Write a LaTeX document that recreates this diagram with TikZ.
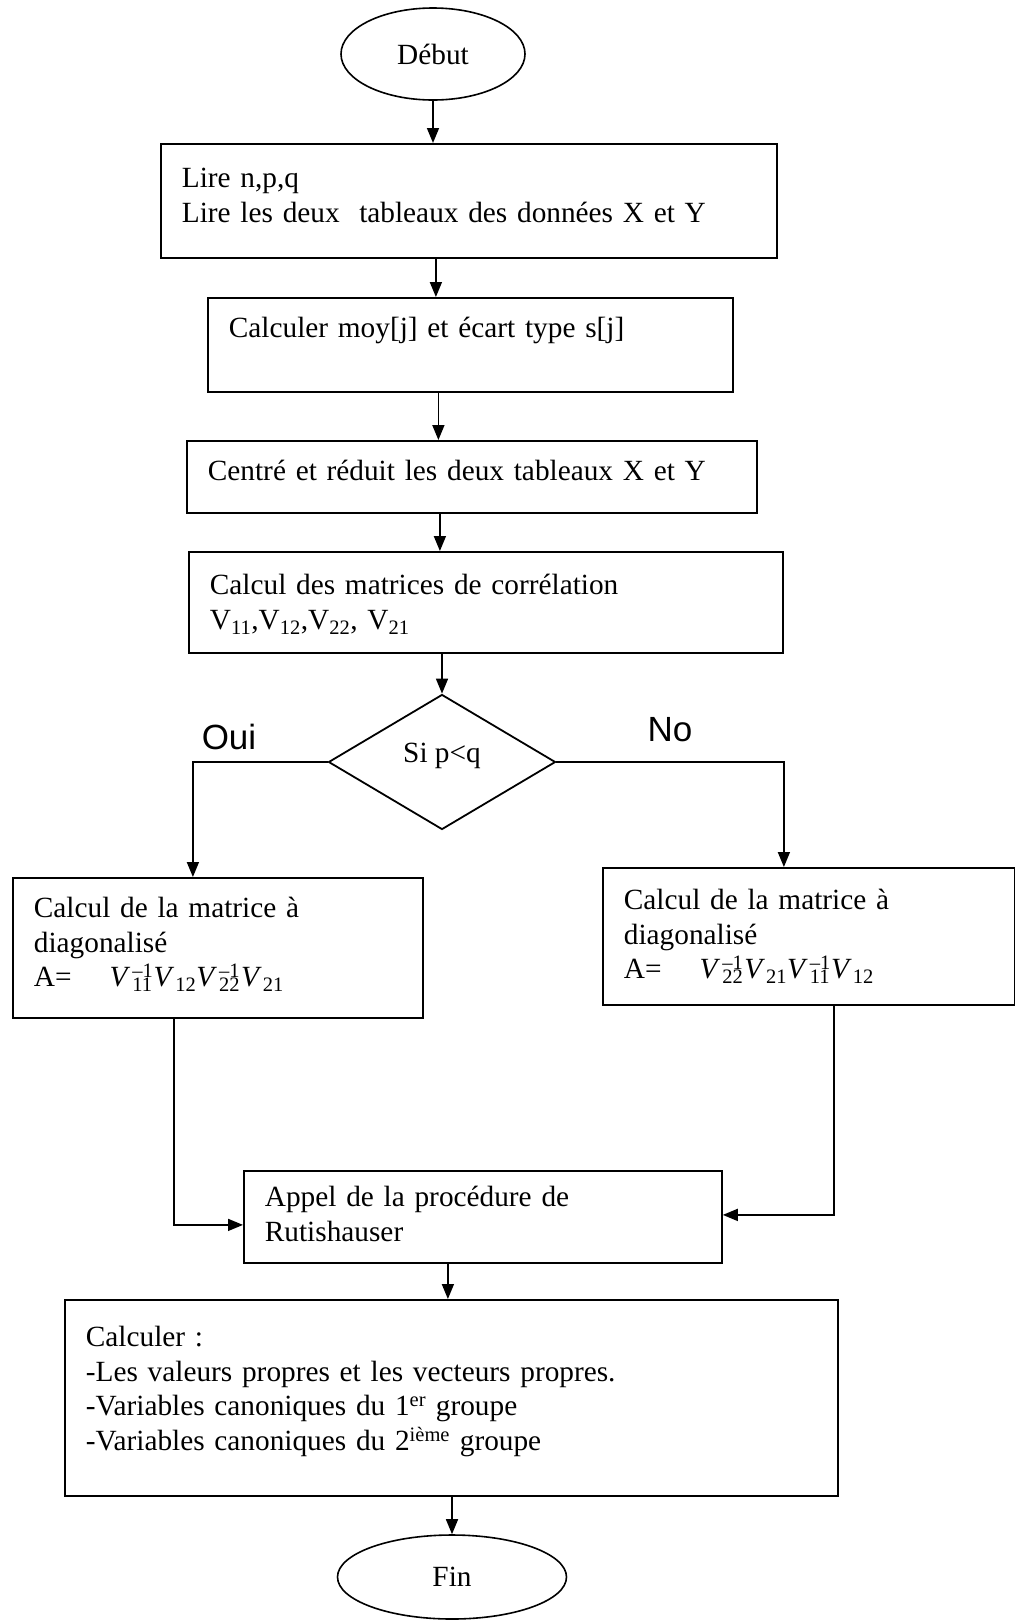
\documentclass[tikz,border=0pt]{standalone}
\usepackage{fontspec}
\setmainfont{Liberation Serif}
\newfontfamily\branchfont{Liberation Sans}
\usepackage{tikz}
\usetikzlibrary{
    shapes.geometric,
    arrows.meta,
    positioning
}
\newcommand{\Vsub}[1]{V\textsubscript{#1}}
\newcommand{\Vit}[1]{\textit{V}\kern1pt\textsubscript{#1}}
\newcommand{\Vinv}[1]{\textit{V}\kern2pt\rlap{\textsuperscript{–1}}\textsubscript{#1}\kern1pt}
\tikzset{
    startstop/.style = {
        ellipse,
        draw,
        line width=1.6pt,
        inner sep=0pt
    },
    process/.style = {
        rectangle,
        draw,
        line width=1.8pt,
        anchor=north west,
        inner xsep=21pt,
        inner ysep=0pt,
        align=left
    },
    decision/.style = {
        diamond,
        draw,
        line width=1.8pt,
        inner sep=0pt,
        aspect=1.68,
        minimum width=227pt,
        minimum height=135pt
    },
    arrow/.style = {
        -{Triangle[length=15pt,width=12pt]},
        line width=1.6pt
    },
    branch/.style = {
        font=\branchfont\fontsize{35}{40}\selectfont
    }
}
\begin{document}
\begin{tikzpicture}[x=1pt, y=-1pt, font=\fontsize{29.3}{34.5}\selectfont]
\useasboundingbox (0,0) rectangle (1015,1623);

\node[startstop, minimum width=184pt, minimum height=92pt] (debut) at (433,54) {Début};
\node[process, text width=574pt, text height=44pt, text depth=70pt] (lire) at (160,143)
    {Lire n,p,q\\Lire les deux\ \ tableaux des données X et Y};
\node[process, text width=483pt, text height=40pt, text depth=54pt] (moy) at (207,297)
    {Calculer moy[j] et écart type s[j]};
\node[process, text width=528pt, text height=40pt, text depth=32pt] (centre) at (186,440)
    {Centré et réduit les deux tableaux X et Y};
\node[process, text width=552pt, text height=43pt, text depth=58pt] (corr) at (188,551)
    {Calcul des matrices de corrélation\\\Vsub{11},\Vsub{12},\Vsub{22}, \Vsub{21}};
\node[decision, text height=10pt, text depth=10pt] (test) at (442,762) {Si p<q};
\node[branch] (oui) at (229,737) {Oui};
\node[branch] (non) at (670,730) {No};
\node[process, text width=368pt, text height=40pt, text depth=100pt] (gauche) at (12,877)
    {Calcul de la matrice à\\diagonalisé\\A=\hspace{1.3em}\Vinv{11}\Vit{12}\Vinv{22}\Vit{21}};
\node[process, text width=370pt, text height=42pt, text depth=95pt] (droite) at (602,867)
    {Calcul de la matrice à\\diagonalisé\\A=\hspace{1.3em}\Vinv{22}\Vit{21}\Vinv{11}\Vit{12}};
\node[process, text width=436pt, text height=36pt, text depth=56pt] (appel) at (243,1170)
    {Appel de la procédure de\\Rutishauser};
\node[process, text width=731pt, text height=47pt, text depth=149pt] (calcul) at (64,1299)
    {Calculer :\\-Les valeurs propres et les vecteurs propres.\\-Variables canoniques du 1\textsuperscript{er} groupe\\-Variables canoniques du 2\textsuperscript{ième} groupe};
\node[startstop, minimum width=229pt, minimum height=84pt] (fin) at (452,1577) {Fin};

\draw[arrow] (debut.south) -- (debut.south |- lire.north);
\draw[arrow] ([xshift=-33pt]lire.south) -- ([xshift=-33pt]lire.south |- moy.north);
\draw[arrow] ([xshift=-32pt]moy.south) -- ([xshift=-32pt]moy.south |- centre.north);
\draw[arrow] ([xshift=-32pt]centre.south) -- ([xshift=-32pt]centre.south |- corr.north);
\draw[arrow] (corr.south -| test.north) -- (test.north);
\draw[arrow] (test.west) -| ([xshift=-25pt]gauche.north);
\draw[arrow] (test.east) -| ([xshift=-25pt]droite.north);
\draw[arrow] ([xshift=-44pt]gauche.south) |- ([yshift=-8pt]appel.west);
\draw[arrow] ([xshift=25pt]droite.south) |- ([yshift=2pt]appel.east);
\draw[arrow] ([xshift=-35pt]appel.south) -- ([xshift=-35pt]appel.south |- calcul.north);
\draw[arrow] (calcul.south -| fin.north) -- (fin.north);
\end{tikzpicture}
\end{document}
